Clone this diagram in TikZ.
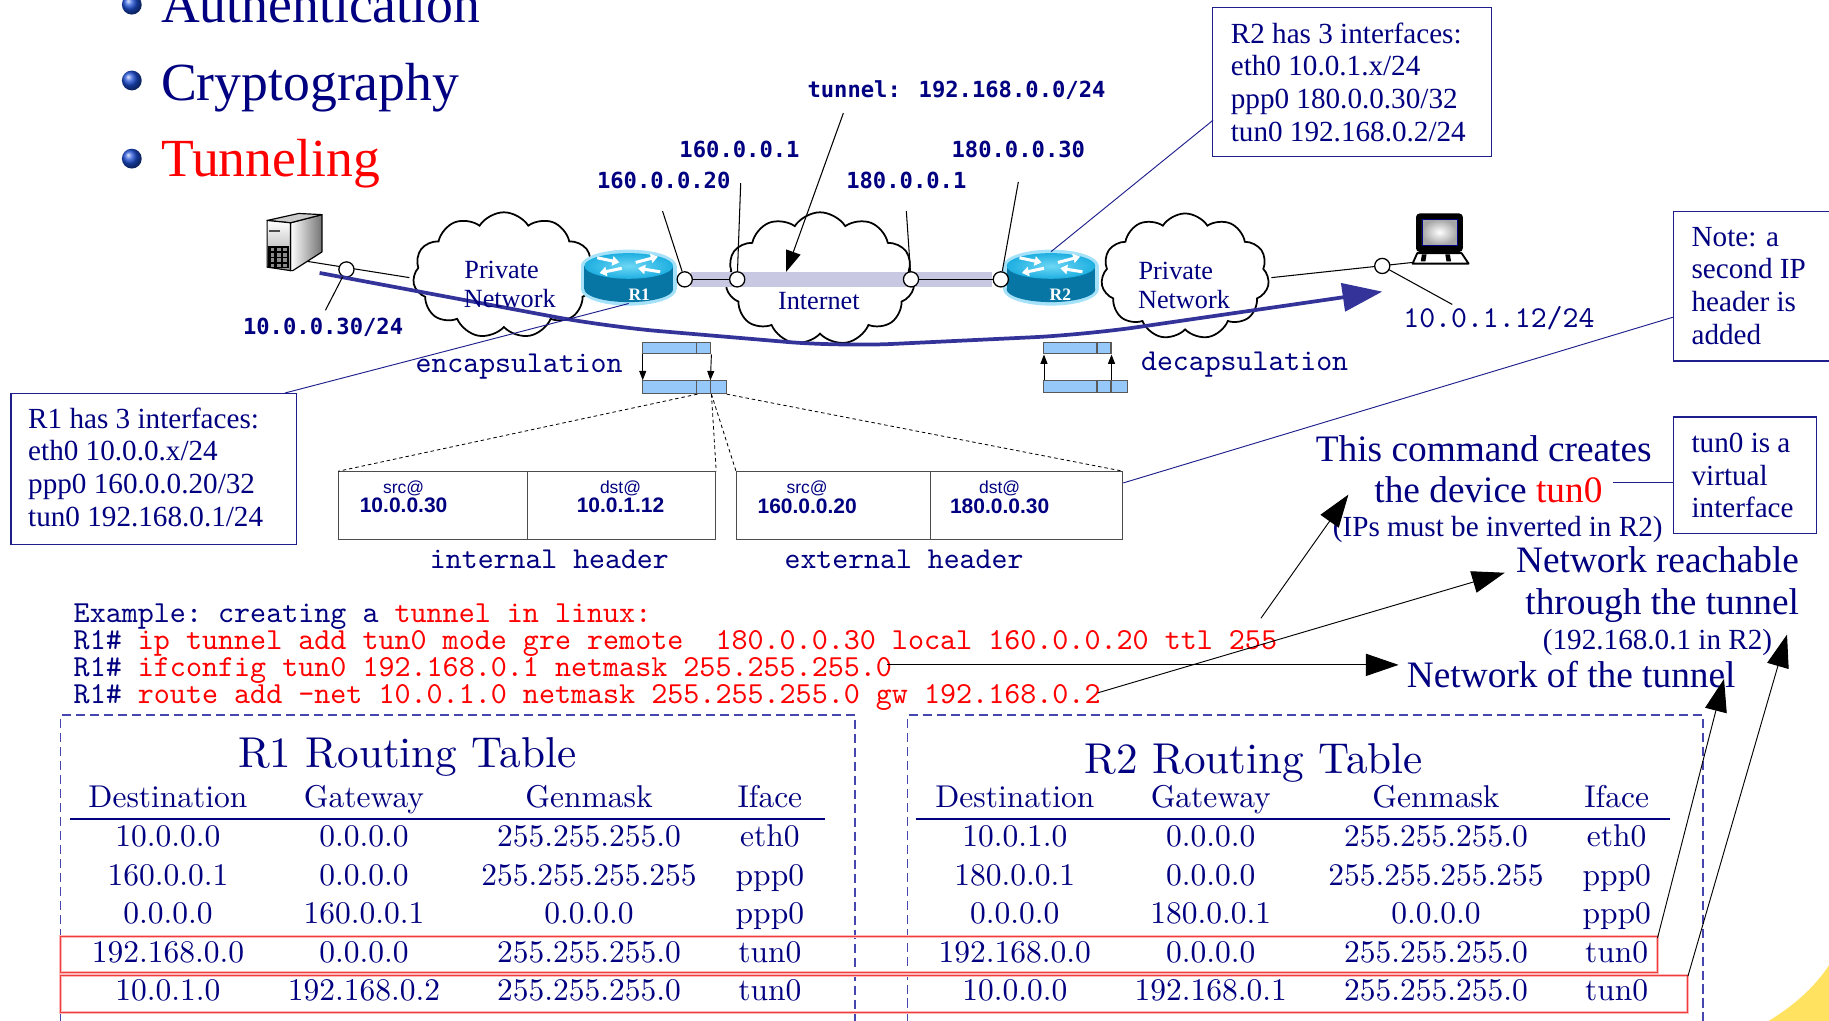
\documentclass[tikz,border=0pt]{standalone}
\usepackage{fontspec}
\usetikzlibrary{shapes.symbols,arrows.meta}
\newfontfamily\tsr{Liberation Serif}
\newfontfamily\lblmono{DejaVu Sans Mono}
\newfontfamily\hsans{Liberation Sans}
\newfontfamily\tabrm{lmroman10-regular}[Extension=.otf]
\newfontfamily\codett{lmmono10-regular}[Extension=.otf]
\newcommand\setfs[1]{\fontsize{#1}{#1}\selectfont}
\definecolor{navytxt}{RGB}{0,0,128}
\definecolor{tunblue}{RGB}{51,51,153}
\definecolor{bandlav}{RGB}{200,200,226}
\definecolor{pktblue}{RGB}{150,200,250}
\definecolor{boxnavy}{RGB}{30,30,140}
\definecolor{dashnavy}{RGB}{70,70,175}
\definecolor{rtrtop}{RGB}{30,175,225}
\definecolor{rtrside}{RGB}{8,118,165}
\definecolor{rtrglow}{RGB}{165,225,248}
\definecolor{cornyellow}{RGB}{255,226,95}
\definecolor{bulletblue}{RGB}{30,80,215}
\definecolor{rowred}{RGB}{240,60,60}
\definecolor{rowpink}{RGB}{252,185,185}

\tikzset{
  titletxt/.style={font=\tsr\setfs{46}, text=navytxt, inner sep=0pt, anchor=base west},
  bulletball/.style={circle, minimum size=17pt, inner sep=0pt, shading=ball, ball color=bulletblue},
  iplbl/.style={font=\lblmono\bfseries\setfs{19}, text=navytxt, inner sep=0pt},
  monolbl/.style={font=\codett\setfs{26}, text=navytxt, inner sep=0pt, anchor=base},
  codeln/.style={font=\codett\frenchspacing\setfs{26.2}, text=navytxt, inner sep=0pt, anchor=base west, text height=15pt, text depth=4pt},
  cloudtxt/.style={font=\tsr\setfs{22.5}, text=navytxt, inner sep=0pt},
  netcloud/.style={cloud, cloud puffs=11, cloud puff arc=115, cloud ignores aspect, draw=black, line width=1.5pt, fill=white, inner sep=0pt},
  ipport/.style={circle, draw=black, fill=white, line width=1.1pt, minimum size=13pt, inner sep=0pt},
  blkwire/.style={black, line width=0.9pt},
  leader/.style={boxnavy, line width=0.8pt},
  infobox/.style={draw=boxnavy, line width=1pt, fill=white, anchor=north west, inner sep=0pt},
  infotxt/.style={font=\tsr\setfs{25}, text=navytxt, inner sep=0pt, anchor=base west},
  notetxt/.style={font=\tsr\setfs{32}, text=navytxt, inner sep=0pt, anchor=base},
  notesmall/.style={font=\tsr\setfs{25}, text=navytxt, inner sep=0pt, anchor=base},
  pkt/.style={fill=pktblue, draw=black!65, line width=0.9pt, anchor=north west, inner sep=0pt},
  hdrbox/.style={draw=black!70, line width=1pt, fill=white, anchor=north west, inner sep=0pt, minimum height=58pt},
  hdrtag/.style={font=\hsans\setfs{15}, text=navytxt, inner sep=0pt},
  hdrip/.style={font=\hsans\bfseries\setfs{18}, text=navytxt, inner sep=0pt},
  peek/.style={black, line width=0.7pt, dash pattern=on 3pt off 2.5pt},
  callout/.style={black, line width=0.8pt, -{Triangle[length=28pt,width=19pt]}},
  smallarrow/.style={black, line width=0.8pt, -{Triangle[length=8pt,width=6pt]}},
  tabtitle/.style={font=\tabrm\setfs{37}, text=navytxt, inner sep=0pt, anchor=base},
  tabtxt/.style={font=\tabrm\setfs{27}, text=navytxt, inner sep=0pt, anchor=base},
  tabframe/.style={dashnavy, line width=1pt, dash pattern=on 8pt off 4pt},
  rtrlbl/.style={font=\tsr\bfseries\setfs{15}, text=white, inner sep=0pt},
}

% router icon: #1 centre of the top face, #2 node name, #3 label, #4 label x offset
\newcommand\rtricon[4]{%
  \begin{scope}[shift={#1}]
    \fill[rtrglow] (-41,0) rectangle (41,20);
    \fill[rtrglow] (0,20) ellipse (41pt and 14pt);
    \fill[rtrglow] (0,0) ellipse (41pt and 14pt);
    \fill[rtrside] (-38,0) rectangle (38,20);
    \fill[rtrside] (0,20) ellipse (38pt and 11pt);
    \shade[inner color={rgb,255:red,110;green,215;blue,245}, outer color=rtrtop] (0,0) ellipse (38pt and 11pt);
    \begin{scope}[white, line width=2.6pt, -{Triangle[length=6pt,width=8pt]}]
      \draw (-27,-7) -- (-8,-3);
      \draw (27,5) -- (8,2);
      \draw (6,-3) -- (25,-8);
      \draw (-6,2) -- (-25,6);
    \end{scope}
    \node[rtrlbl] at (#4,25) {#3};
    \node[inner sep=0pt, minimum width=80pt, minimum height=44pt] (#2) at (0,10) {};
  \end{scope}}

\begin{document}
\begin{tikzpicture}[x=1pt,y=-1pt]
\useasboundingbox (0,0) rectangle (1568,875);
\clip (0,0) rectangle (1568,875);
\fill[white] (0,0) rectangle (1568,875);

% decorative corner
\fill[cornyellow] (1515,876) .. controls (1535,864) and (1555,848) .. (1569,826) -- (1569,876) -- cycle;

% bullet list
\node[bulletball] (ba) at (113,4) {};
\node[bulletball] (bb) at (113,69) {};
\node[bulletball] (bc) at (113,136) {};
\node[titletxt] (tauth) at (138,19) {Authentication};
\node[titletxt] (tcrypt) at (138,86) {Cryptography};
\node[titletxt, text=red] (ttun) at (138,151) {Tunneling};

% access wires
\coordinate (srvport) at (263,224);
\coordinate (lanin) at (351,238);
\draw[blkwire] (srvport) -- (lanin);
\coordinate (lanout) at (1090,238);
\coordinate (pcport) at (1211,225);
\draw[blkwire] (lanout) -- (pcport);

% tower server
\shade[left color=white, right color=black!55, draw=black, line width=1pt, line join=round] (249,191) -- (276,184) -- (276,216) -- (251,232) -- (249,232) -- cycle;
\fill[black!20, draw=black, line width=1pt, line join=round] (229,189) -- (256,183) -- (276,184) -- (249,191) -- cycle;
\shade[top color=white, bottom color=black!40, draw=black, line width=1pt] (229,189) -- (249,191) -- (249,232) -- (229,229) -- cycle;
\fill[black!70] (231,197) rectangle (240,199);
\fill[black] (230,211) rectangle (248,230);
\foreach \i in {0,1,2} \foreach \j in {0,1,2,3} \fill[black!45] ({232+\i*5.3},{213+\j*4.3}) rectangle ++(3.3,2.6);

% workstation
\fill[black, rounded corners=3pt] (1214,183) rectangle (1254,216);
\shade[inner color=white, outer color=black!35] (1219,188) rectangle (1249,210);
\draw[navytxt, line width=0.5pt] (1219,188) rectangle (1249,210);
\draw[black, line width=1.6pt, fill=white, line join=round] (1211,226) -- (1215,217) -- (1253,217) -- (1259,226) -- cycle;
\fill[black] (1219,218) -- (1223,218) -- (1222,224) -- (1218,224) -- cycle;
\fill[black] (1239,218) -- (1243,218) -- (1244,224) -- (1240,224) -- cycle;

% clouds
\node[netcloud, minimum width=156pt, minimum height=108pt] (lan1) at (432,236) {};
\node[netcloud, minimum width=162pt, minimum height=114pt] (inet) at (703,239) {};
\node[netcloud, minimum width=144pt, minimum height=108pt] (lan2) at (1016,237) {};

% tunnel band over the internet
\fill[bandlav] (592,233) rectangle (850,246);

% host ports
\node[ipport] (sp) at (297,231) {};
\node[ipport] (pp) at (1185,228) {};

% encapsulated path
\coordinate (tunA) at (274,234);
\coordinate (tunB) at (1185,250);
\draw[tunblue, line width=3.2pt, rounded corners=45pt, -{Triangle[length=34pt,width=24pt]}] (tunA) -- (520,280) -- (720,297) -- (930,287) -- (tunB);

% cloud captions
\node[cloudtxt] (lan1a) at (430,231) {Private};
\node[cloudtxt] (lan1b) at (437,256) {Network};
\node[cloudtxt] (ineta) at (702,258) {Internet};
\node[cloudtxt] (lan2a) at (1008,232) {Private};
\node[cloudtxt] (lan2b) at (1015,257) {Network};

% routers
\rtricon{(539,228)}{R1}{R1}{9}
\rtricon{(901,228)}{R2}{R2}{8}

% router ports and links
\node[ipport] (p1) at (587,239.5) {};
\node[ipport] (p2) at (632,239.5) {};
\node[ipport] (p3) at (781,239.5) {};
\node[ipport] (p4) at (858,239.5) {};
\draw[blkwire] (p1) -- (p2);
\draw[blkwire] (p3) -- (p4);

% address labels
\node[iplbl] (ltun) at (820,77) {tunnel: 192.168.0.0/24};
\node[iplbl] (l160a) at (634,128) {160.0.0.1};
\node[iplbl] (l160b) at (569,155) {160.0.0.20};
\node[iplbl] (l180a) at (777,155) {180.0.0.1};
\node[iplbl] (l180b) at (873,128) {180.0.0.30};
\node[iplbl] (lsrv) at (277,281) {10.0.0.30/24};
\node[monolbl] (lpc) at (1285,281) {10.0.1.12/24};
\coordinate (q1) at (568,181); \draw[blkwire] (q1) -- (p1);
\coordinate (q2) at (635,157); \draw[blkwire] (q2) -- (p2);
\coordinate (q3) at (777,181); \draw[blkwire] (q3) -- (p3);
\coordinate (q4) at (873,156); \draw[blkwire] (q4) -- (p4);
\coordinate (sq) at (279,266); \draw[blkwire] (sp) -- (sq);
\coordinate (pq) at (1245,261); \draw[blkwire] (pp) -- (pq);
\coordinate (q5) at (723,97); \coordinate (tuntip) at (674,233);
\draw[blkwire, -{Triangle[length=18pt,width=13pt]}] (q5) -- (tuntip);

% encapsulation / decapsulation
\node[monolbl] (tenc) at (445,319) {encapsulation};
\node[monolbl] (tdec) at (1067,318) {decapsulation};
\node[pkt, minimum width=47pt, minimum height=10pt] (et1) at (550,293) {};
\node[pkt, minimum width=12pt, minimum height=10pt] (et2) at (597,293) {};
\node[pkt, minimum width=47pt, minimum height=11pt] (eb1) at (550,326) {};
\node[pkt, minimum width=12pt, minimum height=11pt] (eb2) at (597,326) {};
\node[pkt, minimum width=13pt, minimum height=11pt] (eb3) at (609,326) {};
\draw[smallarrow] ([xshift=1pt]et1.south west) -- ([xshift=1pt]eb1.north west);
\draw[smallarrow] (et2.south east) -- (eb3.north west);
\node[pkt, minimum width=46pt, minimum height=10pt] (dt1) at (894,293) {};
\node[pkt, minimum width=12pt, minimum height=10pt] (dt2) at (940,293) {};
\node[pkt, minimum width=46pt, minimum height=10pt] (db1) at (894,326) {};
\node[pkt, minimum width=12pt, minimum height=10pt] (db2) at (940,326) {};
\node[pkt, minimum width=14pt, minimum height=10pt] (db3) at (952,326) {};
\draw[smallarrow] ([xshift=1pt]db1.north west) -- ([xshift=1pt]dt1.south west);
\draw[smallarrow] (db2.north east) -- (dt2.south east);

% header fields
\node[hdrbox, minimum width=162pt] (isrc) at (290,404) {};
\node[hdrbox, minimum width=161pt] (idst) at (452,404) {};
\node[hdrbox, minimum width=166pt] (esrc) at (631,404) {};
\node[hdrbox, minimum width=165pt] (edst) at (797,404) {};
\draw[peek] (eb1.south east) -- (isrc.north west);
\draw[peek] (eb2.south east) -- (idst.north east);
\draw[peek] (eb2.south east) -- (esrc.north west);
\draw[peek] (eb3.south east) -- (edst.north east);
\node[hdrtag] (isrct) at (346,419) {src@};
\node[hdrip] (isrcip) at (346,433) {10.0.0.30};
\node[hdrtag] (idstt) at (532,419) {dst@};
\node[hdrip] (idstip) at (532,433) {10.0.1.12};
\node[hdrtag] (esrct) at (692,419) {src@};
\node[hdrip] (esrcip) at (692,434) {160.0.0.20};
\node[hdrtag] (edstt) at (857,419) {dst@};
\node[hdrip] (edstip) at (857,434) {180.0.0.30};
\node[monolbl] (lint) at (471,487) {internal header};
\node[monolbl] (lext) at (775,487) {external header};

% interface boxes
\node[infobox, minimum width=245pt, minimum height=129pt] (r1box) at (9,337) {};
\foreach \t [count=\k] in {R1 has 3 interfaces:, eth0 10.0.0.x/24, ppp0 160.0.0.20/32, tun0 192.168.0.1/24}
  \node[infotxt] (r1ln\k) at (24,{339+28*\k}) {\t};
\node[infobox, minimum width=239pt, minimum height=128pt] (r2box) at (1039,6) {};
\foreach \t [count=\k] in {R2 has 3 interfaces:, eth0 10.0.1.x/24, ppp0 180.0.0.30/32, tun0 192.168.0.2/24}
  \node[infotxt] (r2ln\k) at (1055,{9+28*\k}) {\t};
\node[infobox, minimum width=150pt, minimum height=128pt] (notebox) at (1434,181) {};
\foreach \t [count=\k] in {Note: a, second IP, header is, added}
  \node[infotxt] (noteln\k) at (1450,{183+28*\k}) {\t};
\node[infobox, minimum width=123pt, minimum height=100pt] (tunbox) at (1434,357) {};
\foreach \t [count=\k] in {tun0 is a, virtual, interface}
  \node[infotxt] (tunln\k) at (1450,{360+28*\k}) {\t};

% box leaders
\draw[leader] ([xshift=-11pt]r1box.north east) -- (R1.south);
\coordinate (r2a) at (1040,103);
\draw[leader] (r2a) -- (R2.north);
\coordinate (notea) at (1434,272); \coordinate (noteb) at (963,414);
\draw[leader] (notea) -- (noteb);
\coordinate (tuna) at (1434,414); \coordinate (tunb) at (1383,414);
\draw[leader] (tuna) -- (tunb);

% command example
\node[codeln] (c0) at (63,534) {Example: creating a \textcolor{red}{tunnel in linux:}};
\node[codeln] (c1) at (63,557) {R1\# \textcolor{red}{ip tunnel add tun0 mode gre remote\ \ 180.0.0.30 local 160.0.0.20 ttl 255}};
\node[codeln] (c2) at (63,580) {R1\# \textcolor{red}{ifconfig tun0 192.168.0.1 netmask 255.255.255.0}};
\node[codeln] (c3) at (63,603) {R1\# \textcolor{red}{route add -net 10.0.1.0 netmask 255.255.255.0 gw 192.168.0.2}};

% explanations
\node[notetxt] (ann1) at (1272,396) {This command creates};
\node[notetxt] (ann2) at (1276,431) {the device \textcolor{red}{tun0}};
\node[notesmall] (ann3) at (1284,460) {(IPs must be inverted in R2)};
\node[notetxt] (ann4) at (1421,491) {Network reachable};
\node[notetxt] (ann5) at (1425,527) {through the tunnel};
\node[notesmall] (ann6) at (1421,557) {(192.168.0.1 in R2)};
\node[notetxt] (ann7) at (1347,589) {Network of the tunnel};

% routing tables
\draw[tabframe] (52,900) -- (52,613) -- (733,613) -- (733,900);
\draw[tabframe] (778,900) -- (778,613) -- (1460,613) -- (1460,900);
\node[tabtitle] (tt1) at (349,658) {R1 Routing Table};
\node[tabtitle] (tt2) at (1075,663) {R2 Routing Table};
\foreach \h/\x [count=\k] in {Destination/144, Gateway/312, Genmask/505, Iface/660}
  \node[tabtxt] (ha\k) at (\x,692) {\h};
\foreach \h/\x [count=\k] in {Destination/870, Gateway/1038, Genmask/1231, Iface/1386}
  \node[tabtxt] (hb\k) at (\x,692) {\h};
\draw[navytxt, line width=1.5pt] (60,702) -- (707,702);
\draw[navytxt, line width=1.5pt] (785,702) -- (1432,702);
\foreach \d/\g/\m/\i [count=\r] in {10.0.0.0/0.0.0.0/255.255.255.0/eth0, 160.0.0.1/0.0.0.0/255.255.255.255/ppp0, 0.0.0.0/160.0.0.1/0.0.0.0/ppp0, 192.168.0.0/0.0.0.0/255.255.255.0/tun0, 10.0.1.0/192.168.0.2/255.255.255.0/tun0}{
  \node[tabtxt] (ad\r) at (144,{693+33*\r}) {\d};
  \node[tabtxt] (ag\r) at (312,{693+33*\r}) {\g};
  \node[tabtxt] (am\r) at (505,{693+33*\r}) {\m};
  \node[tabtxt] (ai\r) at (660,{693+33*\r}) {\i};
}
\foreach \d/\g/\m/\i [count=\r] in {10.0.1.0/0.0.0.0/255.255.255.0/eth0, 180.0.0.1/0.0.0.0/255.255.255.255/ppp0, 0.0.0.0/180.0.0.1/0.0.0.0/ppp0, 192.168.0.0/0.0.0.0/255.255.255.0/tun0, 10.0.0.0/192.168.0.1/255.255.255.0/tun0}{
  \node[tabtxt] (bd\r) at (870,{693+33*\r}) {\d};
  \node[tabtxt] (bg\r) at (1038,{693+33*\r}) {\g};
  \node[tabtxt] (bm\r) at (1231,{693+33*\r}) {\m};
  \node[tabtxt] (bi\r) at (1386,{693+33*\r}) {\i};
}

% highlighted tunnel routes
\draw[rowpink, line width=2.4pt] (52,803) rectangle (1421,834);
\draw[rowred, line width=0.7pt] (52,803) rectangle (1421,834);
\draw[rowpink, line width=2.4pt] (52,836) rectangle (1447,868);
\draw[rowred, line width=0.7pt] (52,836) rectangle (1447,868);

% explanation arrows
\coordinate (a1s) at (1081,530); \coordinate (a1e) at (1156,424);
\draw[callout] (a1s) -- (a1e);
\coordinate (a2s) at (760,570); \coordinate (a2e) at (1199,570);
\draw[callout] (a2s) -- (a2e);
\coordinate (a3s) at (941,594); \coordinate (a3e) at (1290,491);
\draw[callout] (a3s) -- (a3e);
\coordinate (a4s) at (1421,804); \coordinate (a4e) at (1478,582);
\draw[callout] (a4s) -- (a4e);
\coordinate (a5s) at (1447,837); \coordinate (a5e) at (1532,544);
\draw[callout] (a5s) -- (a5e);
\end{tikzpicture}
\end{document}
